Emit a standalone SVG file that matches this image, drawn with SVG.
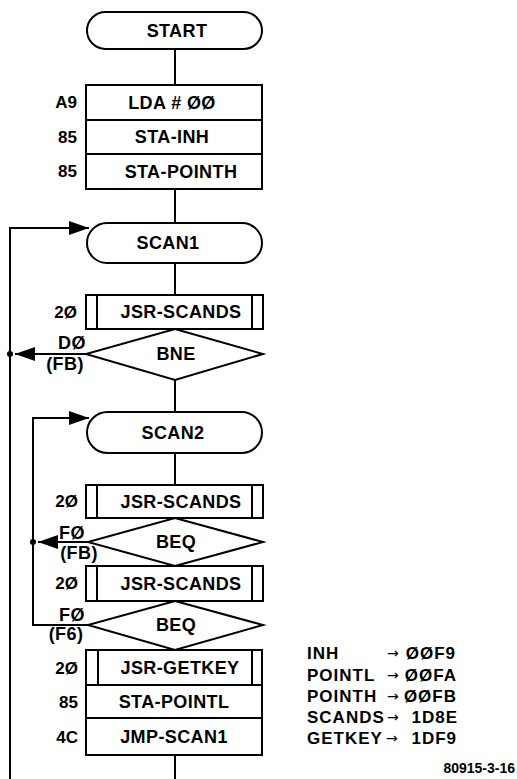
<svg xmlns="http://www.w3.org/2000/svg" width="517" height="779" viewBox="0 0 517 779">
<style>
.s{fill:none;stroke:#000;stroke-width:2}
.n{fill:#fff;stroke:#000;stroke-width:2}
.t{font-family:"Liberation Sans",Arial,sans-serif;font-weight:bold;font-size:18px;fill:#000;text-anchor:middle;letter-spacing:0.4px}
.c{font-family:"Liberation Sans",Arial,sans-serif;font-weight:bold;font-size:17px;fill:#000;text-anchor:end}
.l{font-family:"Liberation Sans",Arial,sans-serif;font-weight:bold;font-size:17px;fill:#000;letter-spacing:1px}
.a{font-family:"DejaVu Sans",sans-serif;font-size:14px;fill:#000}
</style>
<defs>
<marker id="ah" markerWidth="20" markerHeight="14" refX="20" refY="7" orient="auto" markerUnits="userSpaceOnUse">
<path d="M0,0 L20,7 L0,14 Z" fill="#000"/>
</marker>
</defs>
<g id="connectors">
<path class="s" d="M175,49 V85"/>
<path class="s" d="M175,189 V223"/>
<path class="s" d="M175,263 V295"/>
<path class="s" d="M175,380 V412"/>
<path class="s" d="M175,453 V485"/>
<path class="s" d="M175,755 V779"/>
<path class="s" d="M10,779 V228 H89" marker-end="url(#ah)"/>
<path class="s" d="M86,354 H15" marker-end="url(#ah)"/>
<circle cx="10" cy="354" r="3"/>
<path class="s" d="M88,625 H33 V418 H89" marker-end="url(#ah)"/>
<path class="s" d="M88,542 H38" marker-end="url(#ah)"/>
<circle cx="33" cy="542" r="3"/>
<text class="t" x="72" y="349">DØ</text>
<text class="t" x="65" y="370">(FB)</text>
<text class="t" x="72" y="539">FØ</text>
<text class="t" x="79" y="559">(FB)</text>
<text class="t" x="72" y="621">FØ</text>
<text class="t" x="66" y="640">(F6)</text>
</g>
<g id="start">
<rect class="n" x="87" y="12" width="175" height="37" rx="18.5"/>
<text class="t" x="177" y="37">START</text>
</g>
<g id="init">
<rect class="n" x="86" y="85" width="176" height="104"/>
<path class="s" d="M86,120 H262 M86,154 H262"/>
<text class="t" x="172" y="109">LDA # ØØ</text>
<text class="t" x="172" y="143">STA-INH</text>
<text class="t" x="181" y="178">STA-POINTH</text>
<text class="c" x="77" y="108">A9</text>
<text class="c" x="77" y="143">85</text>
<text class="c" x="77" y="177">85</text>
</g>
<g id="scan1">
<rect class="n" x="87" y="223" width="175" height="40" rx="20"/>
<text class="t" x="168" y="249">SCAN1</text>
</g>
<g id="jsr1">
<rect class="n" x="86" y="295" width="177" height="34"/>
<path class="s" d="M97,295 V329 M252,295 V329"/>
<text class="t" x="181" y="318">JSR-SCANDS</text>
<text class="c" x="77" y="318">2Ø</text>
</g>
<g id="bne">
<polygon class="n" points="175,329 263,354 175,380 86,354"/>
<text class="t" x="176" y="360">BNE</text>
</g>
<g id="scan2">
<rect class="n" x="87" y="412" width="175" height="41" rx="20.5"/>
<text class="t" x="173" y="439">SCAN2</text>
</g>
<g id="jsr2">
<rect class="n" x="86" y="485" width="177" height="33"/>
<path class="s" d="M97,485 V518 M252,485 V518"/>
<text class="t" x="181" y="508">JSR-SCANDS</text>
<text class="c" x="78" y="507">2Ø</text>
</g>
<g id="beq1">
<polygon class="n" points="175,518 263,542 175,566 88,542"/>
<text class="t" x="176" y="548">BEQ</text>
</g>
<g id="jsr3">
<rect class="n" x="86" y="566" width="177" height="35"/>
<path class="s" d="M97,566 V601 M252,566 V601"/>
<text class="t" x="181" y="590">JSR-SCANDS</text>
<text class="c" x="78" y="589">2Ø</text>
</g>
<g id="beq2">
<polygon class="n" points="175,601 263,625 175,650 88,625"/>
<text class="t" x="176" y="631">BEQ</text>
</g>
<g id="getkey">
<rect class="n" x="86" y="650" width="176" height="105"/>
<path class="s" d="M86,685 H262 M86,718 H262 M98,650 V685 M252,650 V685"/>
<text class="t" x="180" y="674">JSR-GETKEY</text>
<text class="t" x="174" y="708">STA-POINTL</text>
<text class="t" x="174" y="743">JMP-SCAN1</text>
<text class="c" x="78" y="674">2Ø</text>
<text class="c" x="78" y="708">85</text>
<text class="c" x="78" y="743">4C</text>
</g>
<g id="legend">
<text class="l" x="307" y="659">INH</text>
<text class="l" x="307" y="681">POINTL</text>
<text class="l" x="307" y="702">POINTH</text>
<text class="l" x="307" y="723">SCANDS</text>
<text class="l" x="307" y="744">GETKEY</text>
<text class="a" x="387" y="658">→</text>
<text class="a" x="387" y="680">→</text>
<text class="a" x="387" y="701">→</text>
<text class="a" x="387" y="722">→</text>
<text class="a" x="386" y="743">→</text>
<text class="l" x="456" y="659" text-anchor="end">ØØF9</text>
<text class="l" x="457" y="681" text-anchor="end">ØØFA</text>
<text class="l" x="457" y="702" text-anchor="end">ØØFB</text>
<text class="l" x="458" y="723" text-anchor="end">1D8E</text>
<text class="l" x="457" y="744" text-anchor="end">1DF9</text>
<text x="515" y="773" style="font-family:'Liberation Sans',Arial,sans-serif;font-weight:bold;font-size:14px;text-anchor:end">80915-3-16</text>
</g>
</svg>
